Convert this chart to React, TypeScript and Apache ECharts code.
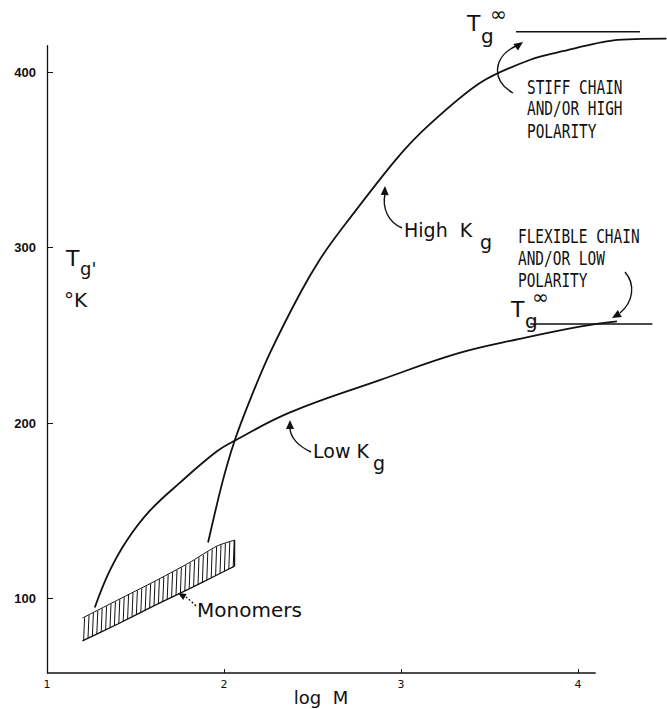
import React, { useEffect, useRef } from 'react';
import * as echarts from 'echarts';

// ---- data ----
const xTicks = [1, 2, 3, 4];
const yTicks = [100, 200, 300, 400];
const xAxisSpan = [1, 4.1]; // drawn extent of the log M axis line

// Low Kg curve: log M vs Tg (K)
const lowKgX = [1.27, 1.35, 1.45, 1.58, 1.75, 1.96, 2.06, 2.37, 2.88, 3.33, 3.67, 4.01, 4.22];
const lowKgY = [95, 115, 133, 150, 166, 184, 190, 206, 224.5, 240, 248, 255, 258];

// High Kg curve
const highKgX = [1.91, 1.99, 2.06, 2.15, 2.26, 2.43, 2.54, 2.66, 2.97, 3.16, 3.45, 3.73, 3.92, 4.2, 4.5];
const highKgY = [132, 166, 190, 214, 240, 274, 293, 310, 350, 370, 394, 407, 412, 418, 419];

// Tg-infinity asymptotes
const tgInfHighX = [3.65, 4.35];
const tgInfHighY = [423, 423];
const tgInfLowX = [3.73, 4.42];
const tgInfLowY = [256.5, 256.5];

// Monomers band (hatched)
const bandX = [1.2, 1.4, 1.6, 1.8, 1.96, 2.06];
const bandLow = [76, 85.6, 95.8, 105.5, 113.5, 118.6];
const bandHigh = [89, 99.3, 109.5, 120.3, 130, 133.4];

const Y_MIN = 57.7;
const Y_MAX = 415;
const X_MIN = 1;
const X_MAX = 4.5;

const BLACK = '#111';

function arrowHead(tx: number, ty: number, angleDeg: number, len = 9, half = 4) {
  const a = (angleDeg * Math.PI) / 180;
  const bx = tx - len * Math.cos(a);
  const by = ty - len * Math.sin(a);
  const nx = -Math.sin(a) * half;
  const ny = Math.cos(a) * half;
  return {
    type: 'polygon',
    shape: { points: [[tx, ty], [bx + nx, by + ny], [bx - nx, by - ny]] },
    style: { fill: BLACK },
    silent: true,
  };
}

function curve(x1: number, y1: number, c1x: number, c1y: number, c2x: number, c2y: number, x2: number, y2: number, dash?: number[]) {
  return {
    type: 'bezierCurve',
    shape: { x1, y1, cpx1: c1x, cpy1: c1y, cpx2: c2x, cpy2: c2y, x2, y2 },
    style: { stroke: BLACK, lineWidth: 1.4, fill: 'none', lineDash: dash },
    silent: true,
  };
}

function txt(x: number, y: number, text: string, font: string, align = 'left') {
  return {
    type: 'text',
    x,
    y,
    silent: true,
    style: { text, font, fill: BLACK, align, verticalAlign: 'top' },
  };
}

function mono(x: number, y: number, text: string) {
  return { ...txt(x, y, text, `19px ${MONO}`), scaleX: 0.76 };
}

const SANS = '"DejaVu Sans", sans-serif';
const MONO = '"DejaVu Sans Mono", monospace';

export default function App() {
  const ref = useRef<HTMLDivElement>(null);
  useEffect(() => {
    if (!ref.current) return;
    const chart = echarts.init(ref.current, undefined, { renderer: 'svg' });
    const line = (xs: number[], ys: number[], width = 1.8, smooth: number | boolean = 0.35) => ({
      type: 'line',
      data: xs.map((x, i) => [x, ys[i]]),
      smooth,
      showSymbol: false,
      clip: false,
      lineStyle: { color: BLACK, width },
      silent: true,
    });
    chart.setOption({
      animation: false,
      backgroundColor: '#fff',
      grid: { left: 47, top: 45.7, width: 619.5, height: 627.3 },
      xAxis: {
        type: 'value',
        min: X_MIN,
        max: X_MAX,
        axisLine: { show: false },
        axisTick: { show: true, inside: true, length: 4, customValues: xTicks, lineStyle: { color: BLACK } },
        axisLabel: { customValues: xTicks, color: BLACK, fontSize: 11, fontFamily: SANS, margin: 6 },
        splitLine: { show: false },
      },
      yAxis: {
        type: 'value',
        min: Y_MIN,
        max: Y_MAX,
        axisLine: { show: true, lineStyle: { color: BLACK, width: 1.3 } },
        axisTick: { show: true, inside: true, length: 6, customValues: yTicks, lineStyle: { color: BLACK } },
        axisLabel: {
          customValues: yTicks,
          color: BLACK,
          fontSize: 13,
          fontWeight: 'bold',
          fontFamily: '"Liberation Sans", sans-serif',
          margin: 11,
        },
        splitLine: { show: false },
      },
      series: [
        // x axis baseline (ends short of the plot's right edge, as in the figure)
        line(xAxisSpan, [Y_MIN, Y_MIN], 1.3, false),
        line(lowKgX, lowKgY, 1.8, 0.4),
        line(highKgX, highKgY, 1.8, 0.3),
        line(tgInfHighX, tgInfHighY, 1.5, false),
        line(tgInfLowX, tgInfLowY, 1.5, false),
        line(bandX, bandLow, 1.3, 0.2),
        line(bandX, bandHigh, 1.0, 0.2),
        {
          type: 'custom',
          clip: false,
          silent: true,
          data: bandX.map((x, i) => [x, bandLow[i], bandHigh[i]]),
          renderItem: (params: any, api: any) => {
            const i = params.dataIndex;
            if (i >= bandX.length - 1) {
              const a = api.coord([bandX[i], bandLow[i]]);
              const b = api.coord([bandX[i], bandHigh[i]]);
              return { type: 'line', shape: { x1: a[0], y1: a[1], x2: b[0], y2: b[1] }, style: { stroke: BLACK, lineWidth: 1.2 } };
            }
            const l0 = api.coord([bandX[i], bandLow[i]]);
            const h0 = api.coord([bandX[i], bandHigh[i]]);
            const l1 = api.coord([bandX[i + 1], bandLow[i + 1]]);
            const h1 = api.coord([bandX[i + 1], bandHigh[i + 1]]);
            const children: any[] = [];
            const step = 4.4;
            const start = Math.ceil(l0[0] / step) * step;
            for (let px = start; px < l1[0]; px += step) {
              const t = (px - l0[0]) / (l1[0] - l0[0]);
              const yl = l0[1] + t * (l1[1] - l0[1]);
              const yh = h0[1] + t * (h1[1] - h0[1]);
              children.push({
                type: 'line',
                shape: { x1: px, y1: yl, x2: px + 1, y2: yh },
                style: { stroke: BLACK, lineWidth: 1 },
              });
            }
            return { type: 'group', children };
          },
        },
      ],
      graphic: {
        elements: [
          // x axis title
          txt(321, 688, 'log  M', `18px ${SANS}`, 'center'),
          // y axis title
          txt(66, 247, 'T', `22px ${SANS}`),
          txt(80, 259, "g'", `18px ${SANS}`),
          txt(64, 290, '°K', `20px ${SANS}`),
          // High Kg
          txt(404, 220, 'High  K', `19px ${SANS}`),
          txt(480, 232, 'g', `19px ${SANS}`),
          curve(402, 228, 388, 222, 382, 208, 385, 194),
          arrowHead(385, 186, -88),
          // Low Kg
          txt(313, 441, 'Low K', `19px ${SANS}`),
          txt(373, 453, 'g', `19px ${SANS}`),
          curve(311, 452, 298, 446, 290, 437, 290, 428),
          arrowHead(290, 420, -90),
          // Monomers
          txt(197, 600, 'Monomers', `20px ${SANS}`),
          curve(196, 606, 193, 603, 190, 600, 186, 597, [2, 2]),
          arrowHead(178, 593, -150, 8, 3.5),
          // Tg infinity top
          txt(467, 12, 'T', `22px ${SANS}`),
          txt(481, 26, 'g', `20px ${SANS}`),
          txt(490, 4, '∞', `20px ${SANS}`),
          // Tg infinity low
          txt(511, 298, 'T', `22px ${SANS}`),
          txt(525, 311, 'g', `20px ${SANS}`),
          txt(532, 287, '∞', `20px ${SANS}`),
          // stiff chain note
          mono(527, 78, 'STIFF CHAIN'),
          mono(527, 99, 'AND/OR HIGH'),
          mono(527, 122, 'POLARITY'),
          curve(513, 93, 490, 80, 494, 56, 516, 46),
          arrowHead(523, 42, -35),
          // flexible chain note
          mono(518, 227, 'FLEXIBLE CHAIN'),
          mono(518, 249, 'AND/OR LOW'),
          mono(518, 271, 'POLARITY'),
          curve(625, 272, 636, 285, 633, 302, 620, 313),
          arrowHead(612, 318, 150),
        ],
      },
    });
    return () => chart.dispose();
  }, []);
  return (
    <div
      ref={ref}
      style={{ position: 'absolute', left: 0, top: 0, width: 667, height: 709, background: '#fff' }}
    />
  );
}
